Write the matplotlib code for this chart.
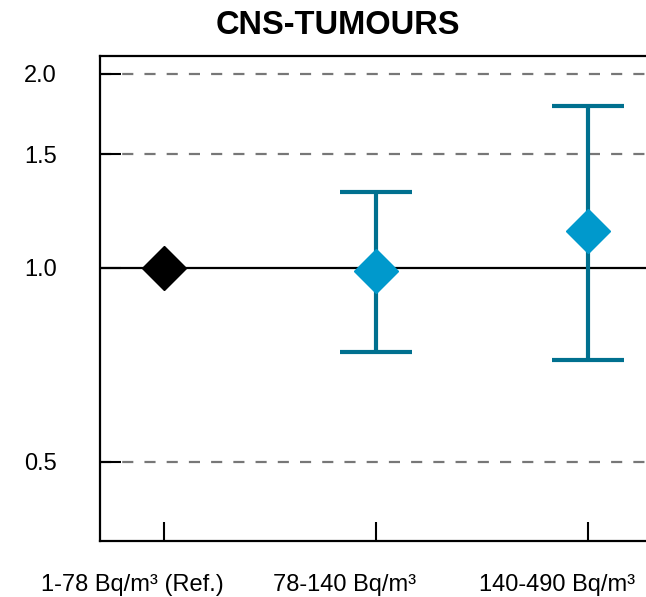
import numpy as np
import matplotlib
matplotlib.use('Agg')
import matplotlib.pyplot as plt
from matplotlib.transforms import ScaledTranslation

plt.rcParams['font.family'] = ['Liberation Sans', 'DejaVu Sans']

# Radon exposure groups and relative risk estimates
groups = ['1-78 Bq/m³ (Ref.)', '78-140 Bq/m³', '140-490 Bq/m³']
rr = [1.0, 0.99, 1.14]
ci_low = [None, 0.74, 0.72]
ci_high = [None, 1.31, 1.78]
yticks = [0.5, 1.0, 1.5, 2.0]

fig = plt.figure(figsize=(6.46, 5.97), dpi=100)
ax = fig.add_axes([100/646, 56/597, 546/646, 485/597])

x = np.arange(len(groups))

ax.set_yscale('log')
ax.set_ylim(0.377, 2.13)
ax.set_xlim(-0.3, 2.274)

# dashed reference lines and the null line
for t in yticks:
    if t == 1.0:
        ax.axhline(t, color='black', lw=1.6, zorder=1)
    else:
        ax.axhline(t, color='#777777', lw=1.6, ls=(0, (5, 5)), zorder=1)

# reference group
ax.plot(x[0], rr[0], marker='D', ms=22, color='black', zorder=3)

# other groups with confidence intervals
for i in range(1, len(groups)):
    ax.errorbar(x[i], rr[i],
                yerr=[[rr[i] - ci_low[i]], [ci_high[i] - rr[i]]],
                fmt='none', ecolor='#00708F', elinewidth=3, capsize=26, capthick=3, zorder=2)
    ax.plot(x[i], rr[i], marker='D', ms=22, color='#0099CC', zorder=3)

ax.set_yticks(yticks)
ax.set_yticklabels([f'{t:.1f}' for t in yticks])
ax.yaxis.set_minor_locator(matplotlib.ticker.NullLocator())
ax.set_xticks(x)
ax.set_xticklabels(groups)

ax.tick_params(axis='y', direction='in', length=15, width=1.5, pad=31, labelsize=17)
ax.tick_params(axis='x', direction='in', length=14, width=1.5, pad=24, labelsize=17)

# group labels sit a little left of their ticks
shift = ScaledTranslation(-0.31, 0, fig.dpi_scale_trans)
for lbl in ax.get_xticklabels():
    lbl.set_transform(lbl.get_transform() + shift)

for s in ['left', 'bottom', 'top']:
    ax.spines[s].set_linewidth(1.6)
ax.spines['right'].set_visible(False)

fig.text(338/646, 1 - 25/597, 'CNS-TUMOURS', ha='center', va='center',
         fontsize=23.5, fontweight='bold')

fig.savefig('out.png', dpi=100)
